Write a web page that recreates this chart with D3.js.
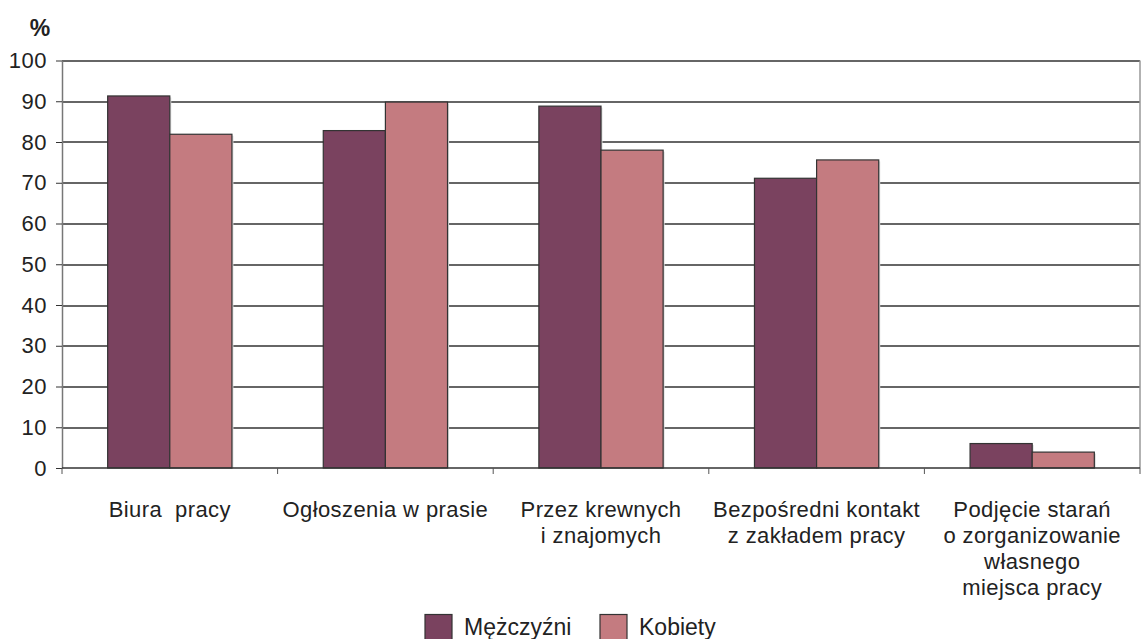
<html>
<head>
<meta charset="utf-8">
<script src="https://d3js.org/d3.v7.min.js"></script>
<style>
  body { margin: 0; background: #fff; }
  text { font-family: "Liberation Sans", Arial, sans-serif; fill: #222; }
</style>
</head>
<body>
<svg id="chart" width="1141" height="639"></svg>
<script>
// data
const categories = [
  ["Biura  pracy"],
  ["Ogłoszenia w prasie"],
  ["Przez krewnych", "i znajomych"],
  ["Bezpośredni kontakt", "z zakładem pracy"],
  ["Podjęcie starań", "o zorganizowanie", "własnego", "miejsca pracy"]
];
const seriesNames = ["Mężczyźni", "Kobiety"];
const men = [91.3, 82.8, 88.8, 71.1, 6.0];
const women = [81.9, 89.8, 78.0, 75.6, 3.9];
const yTicks = [0, 10, 20, 30, 40, 50, 60, 70, 80, 90, 100];
const colors = ["#7a425f", "#c47b80"];

let svg = d3.select("svg#chart");
let margin = {"top": 60.5, "right": 1, "bottom": 171, "left": 62};
let width = +svg.attr("width");
let height = +svg.attr("height");
let innerW = width - margin.left - margin.right;
let innerH = height - margin.top - margin.bottom;

let g = svg.append("g").attr("transform", "translate(" + margin.left + "," + margin.top + ")");

let x0 = d3.scaleBand().domain(d3.range(categories.length)).range([0, innerW]).padding(0);
let x1 = d3.scaleBand().domain([0, 1]).range([0, x0.bandwidth()]).paddingOuter(0.735).paddingInner(0);
let y = d3.scaleLinear().domain([0, 100]).range([innerH, 0]);

// gridlines
yTicks.forEach(function(t) {
  if (t === 0) return;
  g.append("line")
    .attr("x1", 0).attr("x2", innerW)
    .attr("y1", Math.round(y(t)) + 0.5).attr("y2", Math.round(y(t)) + 0.5)
    .style("stroke", "#333").style("stroke-width", 1.3);
});

// y axis
let yAxis = d3.axisLeft(y).tickValues(yTicks).tickSize(6).tickPadding(9).tickSizeOuter(0);
let ya = g.append("g").call(yAxis);
ya.select(".domain").style("stroke", "#777").style("stroke-width", 1.5);
ya.selectAll(".tick line").style("stroke", "#333");
ya.selectAll(".tick text").style("font-size", "22px").style("letter-spacing", "0.5px")
  .style("font-family", "'Liberation Sans', Arial, sans-serif").style("fill", "#222");

// right border
g.append("line").attr("x1", innerW).attr("x2", innerW).attr("y1", 0).attr("y2", innerH)
  .style("stroke", "#999").style("stroke-width", 1.5);

// bars
const series = [men, women];
series.forEach(function(vals, s) {
  vals.forEach(function(v, i) {
    let bx = x0(i) + x1(s);
    // shadow
    g.append("rect")
      .attr("x", bx + 1.5).attr("y", y(v) + 1.5)
      .attr("width", x1.bandwidth()).attr("height", innerH - y(v) - 1.5)
      .style("fill", "#ddd");
    g.append("rect")
      .attr("x", bx).attr("y", y(v))
      .attr("width", x1.bandwidth()).attr("height", innerH - y(v))
      .style("fill", colors[s]).style("stroke", "#333").style("stroke-width", 1.2);
  });
});

// x axis
let xAxisLine = g.append("g").attr("transform", "translate(0," + innerH + ")");
xAxisLine.append("line").attr("x1", 0).attr("x2", innerW).attr("y1", 0).attr("y2", 0)
  .style("stroke", "#333").style("stroke-width", 1.3);
for (let i = 0; i <= categories.length; i++) {
  let tx = (i < categories.length ? x0(i) : innerW);
  xAxisLine.append("line").attr("x1", tx).attr("x2", tx).attr("y1", 0).attr("y2", 6)
    .style("stroke", "#555");
}

// category labels
categories.forEach(function(lines, i) {
  let t = g.append("text")
    .attr("x", x0(i) + x0.bandwidth() / 2)
    .attr("y", innerH + 48.5)
    .attr("text-anchor", "middle")
    .style("font-size", "22px")
    .style("letter-spacing", "0.4px")
    .attr("xml:space", "preserve");
  lines.forEach(function(l, k) {
    t.append("tspan").attr("x", x0(i) + x0.bandwidth() / 2).attr("dy", k === 0 ? 0 : 26).text(l);
  });
});

// % label
svg.append("text").attr("x", 40).attr("y", 36).attr("text-anchor", "middle")
  .style("font-size", "23px").style("font-weight", "bold").text("%");

// legend
let legendX = [425, 600];
seriesNames.forEach(function(n, s) {
  svg.append("rect").attr("x", legendX[s]).attr("y", 614.5).attr("width", 27).attr("height", 26)
    .style("fill", colors[s]).style("stroke", "#333").style("stroke-width", 1.2);
  svg.append("text").attr("x", legendX[s] + 39).attr("y", 635).style("font-size", "23px").text(n);
});
</script>
</body>
</html>
